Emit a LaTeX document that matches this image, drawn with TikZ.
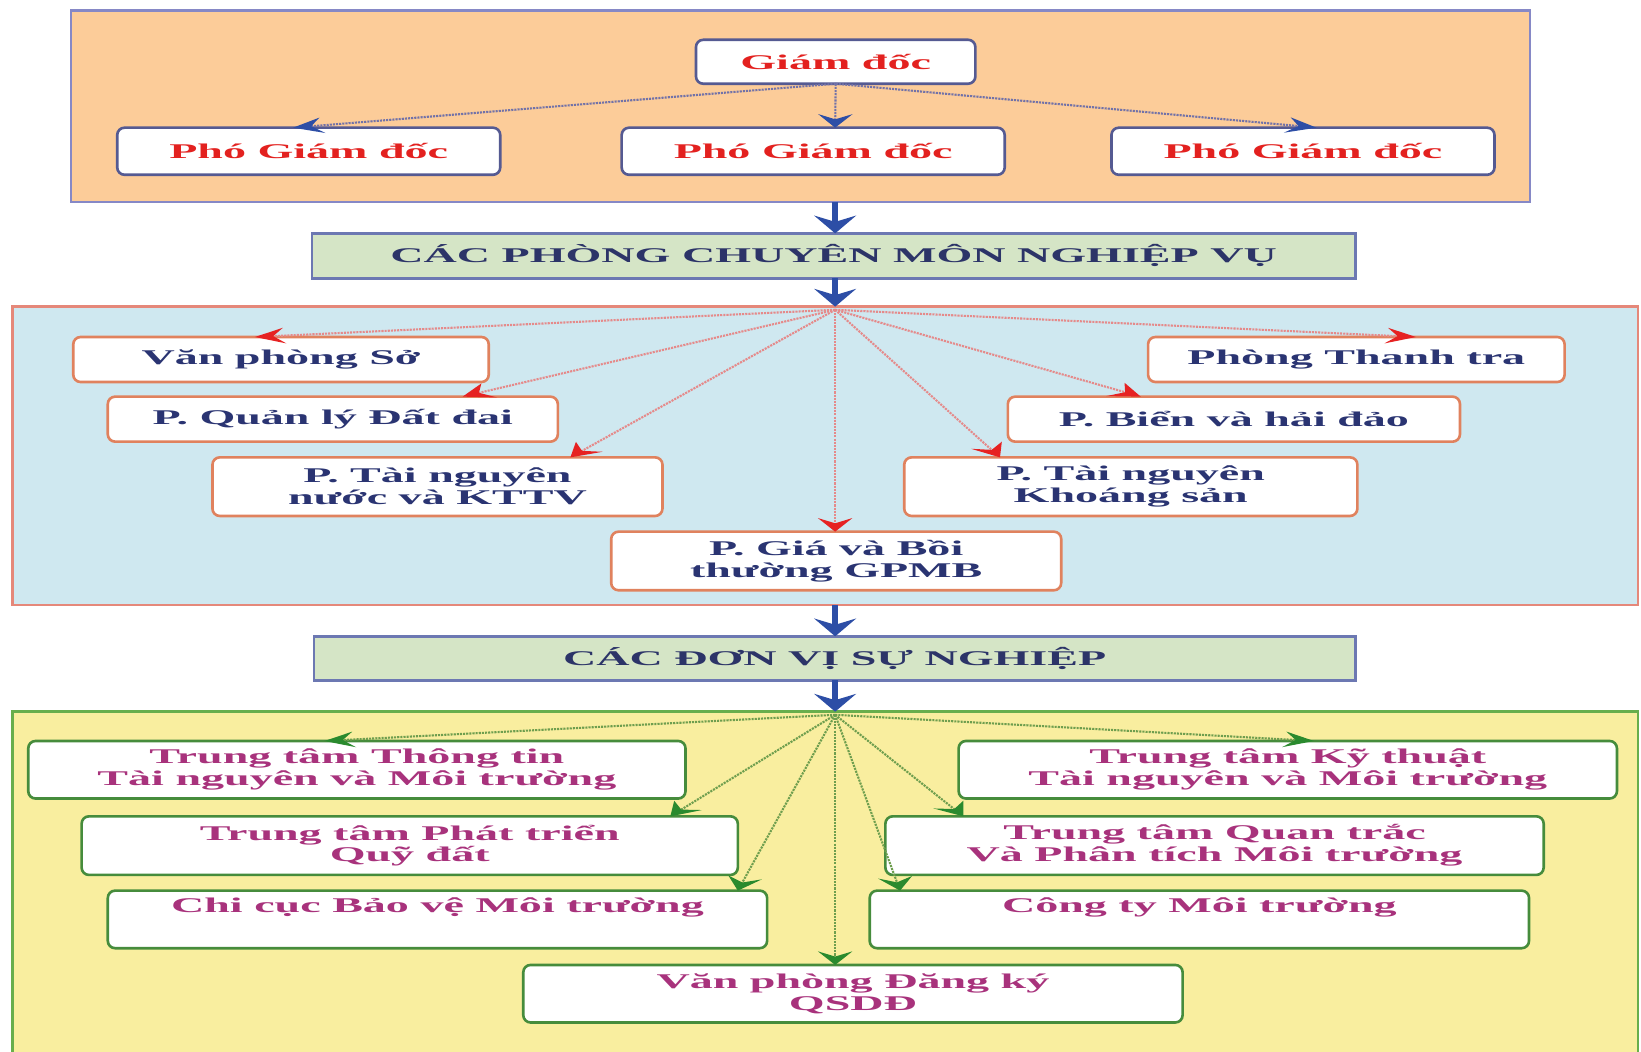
\documentclass[tikz,border=0pt]{standalone}
\usepackage{fontspec}
\setmainfont{Liberation Serif}[FakeStretch=2.2]
\usetikzlibrary{arrows.meta,calc}

\definecolor{orangeFill}{HTML}{FCCC99}
\definecolor{orangeLine}{HTML}{8688C6}
\definecolor{bossLine}{HTML}{555A92}
\definecolor{bossRed}{HTML}{E3211F}
\definecolor{bossLink}{HTML}{7272A8}
\definecolor{flowBlue}{HTML}{2D4EA6}
\definecolor{hdrFill}{HTML}{D5E5C6}
\definecolor{hdrLine}{HTML}{6C78B2}
\definecolor{hdrText}{HTML}{2C3468}
\definecolor{blueFill}{HTML}{CFE8F0}
\definecolor{blueLine}{HTML}{E5887A}
\definecolor{deptLine}{HTML}{E0825E}
\definecolor{deptText}{HTML}{2A3472}
\definecolor{redLink}{HTML}{E58A8A}
\definecolor{tipRed}{HTML}{E62222}
\definecolor{yellowFill}{HTML}{F9EE9F}
\definecolor{yellowLine}{HTML}{68AE4C}
\definecolor{unitLine}{HTML}{468C3C}
\definecolor{unitText}{HTML}{A8327C}
\definecolor{greenLink}{HTML}{6E9E4E}
\definecolor{tipGreen}{HTML}{2A8A2E}

% A dotted connector with a barbed head that is widened along x,
% the same way as the lettering: #1 line style, #2 head colour,
% #3 start, #4 end.
\newcommand\stretchedlink[4]{%
  \draw[#1, shorten >=4pt] (#3) -- (#4);
  \fill[#2] let \p1=(#3), \p2=(#4),
      \n1={atan2(\y2-\y1,(\x2-\x1)/2.2)}, \n2={cos(\n1)}, \n3={sin(\n1)} in
    (\p2)
    -- ({\x2+2.2*(-13*\n2-7.5*\n3)*1pt}, {\y2+(-13*\n3+7.5*\n2)*1pt})
    -- ({\x2-2.2*8*\n2*1pt}, {\y2-8*\n3*1pt})
    -- ({\x2+2.2*(-13*\n2+7.5*\n3)*1pt}, {\y2+(-13*\n3-7.5*\n2)*1pt})
    -- cycle;
}

\begin{document}
\begin{tikzpicture}[x=1pt,y=-1pt,
  panel/.style={draw, line width=2.5pt, inner sep=0pt, outer sep=0pt},
  box/.style={draw, fill=white, rounded corners=7pt, line width=2.5pt,
    inner sep=0pt, outer sep=0pt, align=center,
    font=\fontsize{20}{21}\selectfont\bfseries},
  boss/.style={box, draw=bossLine, text=bossRed},
  dept/.style={box, draw=deptLine, text=deptText},
  unit/.style={box, draw=unitLine, text=unitText},
  header/.style={draw=hdrLine, fill=hdrFill, line width=2.5pt, inner sep=0pt,
    outer sep=0pt, text=hdrText, font=\fontsize{20}{21}\selectfont\bfseries},
  link/.style={densely dotted, line width=2pt},
  bosslink/.style={link, draw=bossLink},
  redlink/.style={link, draw=redLink},
  greenlink/.style={link, draw=greenLink},
  flow/.style={draw=flowBlue, line width=6pt,
    -{Stealth[length=17pt,width=40pt,inset=6pt]}}
]
\useasboundingbox (0,0) rectangle (1568,1005);
\fill[white] (0,0) rectangle (1568,1005);

% ---- panels ----
\node[panel, draw=orangeLine, fill=orangeFill, minimum width=1394pt, minimum height=183pt] (board) at (765,101.5) {};
\node[panel, draw=blueLine, fill=blueFill, minimum width=1553pt, minimum height=285pt] (depts) at (788.5,435.5) {};
\node[panel, draw=yellowLine, fill=yellowFill, minimum width=1553pt, minimum height=340pt] (units) at (788.5,850) {};

% ---- leadership ----
\node[boss, minimum width=267pt, minimum height=42pt] (gd) at (798.5,59) {Giám đốc};
\node[boss, minimum width=366pt, minimum height=45pt] (pgdA) at (295,144.5) {Phó Giám đốc};
\node[boss, minimum width=366pt, minimum height=45pt] (pgdB) at (777,144.5) {Phó Giám đốc};
\node[boss, minimum width=366pt, minimum height=45pt] (pgdC) at (1245,144.5) {Phó Giám đốc};

% ---- section headers ----
\node[header, minimum width=997pt, minimum height=43pt] (hdA) at (796.5,244.5) {CÁC PHÒNG CHUYÊN MÔN NGHIỆP VỤ};
\node[header, minimum width=995pt, minimum height=42pt] (hdB) at (797.5,629) {CÁC ĐƠN VỊ SỰ NGHIỆP};

% ---- departments ----
\node[dept, minimum width=397pt, minimum height=43pt] (vps) at (268.5,343.5) {Văn phòng Sở};
\node[dept, minimum width=398pt, minimum height=43pt] (ttr) at (1296,343.5) {Phòng Thanh tra};
\node[dept, minimum width=430pt, minimum height=43pt] (qld) at (318,400.5) {P. Quản lý Đất đai};
\node[dept, minimum width=432pt, minimum height=43pt] (bhd) at (1179,400.5) {P. Biển và hải đảo};
\node[dept, minimum width=430pt, minimum height=56pt] (tnn) at (418,465) {P. Tài nguyên\\nước và KTTV};
\node[dept, minimum width=433pt, minimum height=56pt] (tks) at (1080.5,465) {P. Tài nguyên\\Khoáng sản};
\node[dept, minimum width=430pt, minimum height=56pt] (gpmb) at (799,536) {P. Giá và Bồi\\thường GPMB};

% ---- public service units ----
\node[unit, minimum width=628pt, minimum height=55pt] (ttt) at (341,735.5) {Trung tâm Thông tin\\Tài nguyên và Môi trường};
\node[unit, minimum width=629pt, minimum height=55pt] (tkt) at (1230.5,735.5) {Trung tâm Kỹ thuật\\Tài nguyên và Môi trường};
\node[unit, minimum width=627pt, minimum height=56pt] (tpt) at (391.5,808) {Trung tâm Phát triển\\Quỹ đất};
\node[unit, minimum width=629pt, minimum height=56pt] (tqt) at (1160.5,808) {Trung tâm Quan trắc\\Và Phân tích Môi trường};
\node[unit, minimum width=630pt, minimum height=55pt] (ccb) at (418,878.5) {Chi cục Bảo vệ Môi trường\\\strut};
\node[unit, minimum width=630pt, minimum height=55pt] (cty) at (1146,878.5) {Công ty Môi trường\\\strut};
\node[unit, minimum width=630pt, minimum height=55pt] (vpdk) at (815,949.5) {Văn phòng Đăng ký\\QSDĐ};

% ---- hubs and link ends ----
\coordinate (hubB) at (798,296);
\coordinate (hubC) at (798,683);

% ---- leadership links ----
\stretchedlink{bosslink}{flowBlue}{gd.south}{[xshift=-15pt]pgdA.north}
\stretchedlink{bosslink}{flowBlue}{gd.south}{[xshift=21pt]pgdB.north}
\stretchedlink{bosslink}{flowBlue}{gd.south}{[xshift=13pt]pgdC.north}

% ---- department links ----
\stretchedlink{redlink}{tipRed}{hubB}{[xshift=-25pt]vps.north}
\stretchedlink{redlink}{tipRed}{hubB}{[xshift=57pt]ttr.north}
\stretchedlink{redlink}{tipRed}{hubB}{[xshift=124pt]qld.north}
\stretchedlink{redlink}{tipRed}{hubB}{[xshift=-89pt]bhd.north}
\stretchedlink{redlink}{tipRed}{hubB}{[xshift=127pt]tnn.north}
\stretchedlink{redlink}{tipRed}{hubB}{[xshift=-125pt]tks.north}
\stretchedlink{redlink}{tipRed}{hubB}{gpmb.north -| hubB}

% ---- unit links ----
\stretchedlink{greenlink}{tipGreen}{hubC}{[xshift=-31pt]ttt.north}
\stretchedlink{greenlink}{tipGreen}{hubC}{[xshift=25pt]tkt.north}
\stretchedlink{greenlink}{tipGreen}{hubC}{[xshift=249pt]tpt.north}
\stretchedlink{greenlink}{tipGreen}{hubC}{[xshift=-240pt]tqt.north}
\stretchedlink{greenlink}{tipGreen}{hubC}{[xshift=287pt]ccb.north}
\stretchedlink{greenlink}{tipGreen}{hubC}{[xshift=-286pt]cty.north}
\stretchedlink{greenlink}{tipGreen}{hubC}{vpdk.north -| hubC}

% ---- main flow ----
\draw[flow] (board.south -| hubB) -- (hdA.north -| hubB);
\draw[flow] (hdA.south -| hubB) -- (depts.north -| hubB);
\draw[flow] (depts.south -| hubB) -- (hdB.north -| hubB);
\draw[flow] (hdB.south -| hubB) -- (units.north -| hubB);
\end{tikzpicture}
\end{document}
